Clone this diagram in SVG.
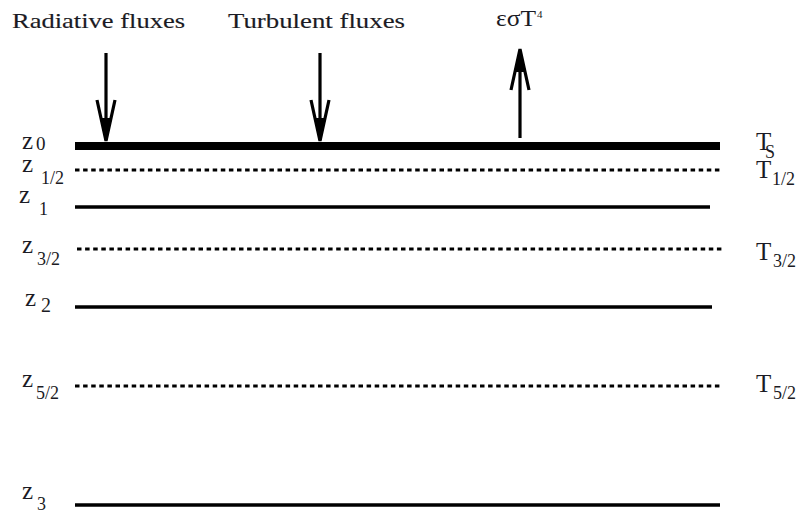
<svg xmlns="http://www.w3.org/2000/svg" width="801" height="515" viewBox="0 0 801 515">
<style>
.t{font-family:"Liberation Serif","DejaVu Serif",serif;fill:#1b1b24}
.lbl{font-size:21px;stroke:#1b1b24;stroke-width:0.15}
.z{font-size:25px}
.sub{font-size:18px}
.solid{stroke:#000;stroke-width:3.5;fill:none}
.dash{stroke:#000;stroke-width:3;stroke-dasharray:4.5 3.6;fill:none}
.arr{stroke:#000;stroke-width:3.2;fill:none;stroke-linejoin:miter}
</style>
<rect width="801" height="515" fill="#fff"/>
<g id="layers">
<line x1="75" y1="146" x2="720" y2="146" stroke="#000" stroke-width="8"/>
<line class="dash" x1="75" y1="170" x2="720" y2="170"/>
<line class="solid" x1="75" y1="207" x2="710" y2="207"/>
<line class="dash" x1="77" y1="249" x2="722" y2="249"/>
<line class="solid" x1="75" y1="307" x2="712" y2="307"/>
<line class="dash" x1="75" y1="386" x2="722" y2="386"/>
<line class="solid" x1="75" y1="505" x2="720" y2="505"/>
</g>
<g id="connectors">
<line class="arr" x1="106" y1="53" x2="106" y2="140"/>
<path class="arr" d="M97,100 L106,141 L115,100"/>
<path d="M101,118 L106,141 L111,118 Z" fill="#000"/>
<line class="arr" x1="320" y1="53" x2="320" y2="140"/>
<path class="arr" d="M311,100 L320,141 L329,100"/>
<path d="M315,118 L320,141 L325,118 Z" fill="#000"/>
<line class="arr" x1="520" y1="138" x2="520" y2="52"/>
<path class="arr" d="M511,90 L520,49 L529,90"/>
<path d="M515,72 L520,49 L525,72 Z" fill="#000"/>
</g>
<g id="top-labels">
<text class="t lbl" x="12" y="28" textLength="173" lengthAdjust="spacingAndGlyphs">Radiative fluxes</text>
<text class="t lbl" x="228" y="28" textLength="177" lengthAdjust="spacingAndGlyphs">Turbulent fluxes</text>
<text class="t" x="496" y="26" font-size="23" textLength="40" lengthAdjust="spacingAndGlyphs">εσT</text>
<text class="t" x="537" y="18" font-size="11">4</text>
</g>
<g id="z-labels">
<text class="t z" x="22" y="149">z</text><text class="t" x="36" y="150" font-size="19">0</text>
<text class="t z" x="22" y="172">z</text><text class="t sub" x="41" y="184">1/2</text>
<text class="t z" x="19" y="203">z</text><text class="t sub" x="39" y="215">1</text>
<text class="t z" x="22" y="253">z</text><text class="t sub" x="37" y="265">3/2</text>
<text class="t z" x="25" y="306">z</text><text class="t" x="41" y="312" font-size="20">2</text>
<text class="t z" x="22" y="499">z</text><text class="t sub" x="37" y="510">3</text>
<text class="t z" x="22" y="387">z</text><text class="t sub" x="36" y="399">5/2</text>
</g>
<g id="t-labels">
<text class="t z" x="756" y="150">T</text><text class="t sub" x="765" y="158">S</text>
<text class="t z" x="756" y="178">T</text><text class="t sub" x="772" y="185">1/2</text>
<text class="t z" x="756" y="260">T</text><text class="t sub" x="773" y="267">3/2</text>
<text class="t z" x="756" y="392">T</text><text class="t sub" x="773" y="399">5/2</text>
</g>
</svg>
